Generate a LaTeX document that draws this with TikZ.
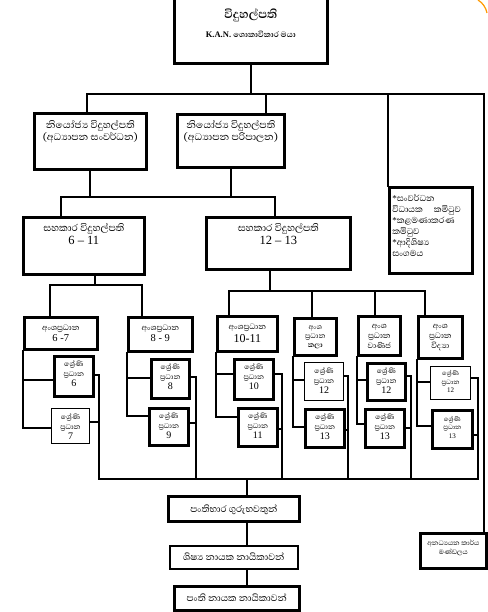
\documentclass[tikz,border=0pt]{standalone}
\usepackage{fontspec}
\setmainfont{Liberation Serif}
\newfontfamily\si[Script=Sinhala]{Abhaya Libre}
\newcommand\fs[1]{\fontsize{#1}{#1}\selectfont}
% centred text box: width, height, first baseline, baselineskip, content
\newcommand\cbx[5]{\parbox[c][#2pt][t]{#1pt}{\centering\baselineskip=#4pt\lineskiplimit=-30pt\lineskip=0pt\rule{0pt}{#3pt}#5\par}}
% left aligned text box
\newcommand\lbx[5]{\parbox[c][#2pt][t]{#1pt}{\raggedright\leftskip=3pt\baselineskip=#4pt\lineskiplimit=-30pt\lineskip=0pt\rule{0pt}{#3pt}#5\par}}
\newcommand\comstar{{\rmfamily\fs{9}*}}
\newcommand\gtext[1]{{\si\fs{9}ශ්^^^^200dරේණි}\\{\si\fs{9}ප්^^^^200dරධාන}\\{\fs{10}#1}}
\newcommand\grp[8]{%
 \coordinate (#1a) at (0,#4); \coordinate (#1b) at (0,#5);
 \coordinate (#1ra) at (#6,#7); \coordinate (#1rb) at (#6,#8);
 \draw[con] (#1.south west) -- (#1.south west |- #1b) -- (#3.west |- #1b);
 \draw[con] (#1.south west |- #1a) -- (#2.west |- #1a);
 \draw[con] (#2.east |- #1ra) -- (#1ra) -- (#1ra |- bl);
 \draw[con] (#3.east |- #1rb) -- (#1rb);
}
\tikzset{
 thk/.style={draw, line width=2.6pt, inner sep=0pt, anchor=north west},
 thn/.style={draw, line width=1pt, inner sep=0pt, anchor=north west},
 con/.style={line width=2.2pt, line cap=rect},
}
\begin{document}
\begin{tikzpicture}[x=1pt,y=-1pt]
\useasboundingbox[fill=white] (0,0) rectangle (487,612);
% boxes
\node[thk] (prin) at (173,-3) {\cbx{153}{65}{20}{19}{{\si\bfseries\fs{15}විදුහල්පති}\\{\bfseries\fs{8.5}K.A.N. {\si\fs{10}ශොකාවිකාර මයා}}}};
\node[thk] (dep1) at (33,112) {\cbx{112}{56}{15}{12.5}{\si\fs{12.5}නියෝජ්^^^^200dය විදුහල්පති\\(අධ්^^^^200dයාපන සංවර්ධන)}};
\node[thk] (dep2) at (176,113) {\cbx{107}{53}{14}{12.5}{\si\fs{12.5}නියෝජ්^^^^200dය විදුහල්පති\\(අධ්^^^^200dයාපන පරිපාලන)}};
\node[thk] (com) at (388,186) {\lbx{83}{86}{14}{12.6}{\si\fs{11}\comstar සංවර්ධන\\විධායක\quad කමිටුව\\\comstar කළමණාකරණ\\කමිටුව\\\comstar ආදිශිෂ්^^^^200dය\\සංගමය}};
\node[thk] (ast1) at (22,216) {\cbx{121}{57}{14}{13}{{\si\fs{12.5}සහකාර විදුහල්පති}\\{\fs{12.5}6 – 11}}};
\node[thk] (ast2) at (205,216) {\cbx{144}{52}{14}{13}{{\si\fs{12.5}සහකාර විදුහල්පති}\\{\fs{12.5}12 – 13}}};
\node[thk] (s67) at (23,316) {\cbx{73}{32}{13.5}{11}{{\si\fs{10}අංශප්^^^^200dරධාන}\\{\fs{10.5}6 -7}}};
\node[thk] (s89) at (127,316) {\cbx{64}{34}{13.5}{11}{{\si\fs{10}අංශප්^^^^200dරධාන}\\{\fs{10.5}8 - 9}}};
\node[thk] (s1011) at (216,315) {\cbx{60}{35}{13.5}{13}{{\si\fs{10}අංශප්^^^^200dරධාන}\\{\fs{12}10-11}}};
\node[thk] (kala) at (293,317) {\cbx{42}{37}{11}{10.5}{\si\fs{9}අංශ\\ප්^^^^200dරධාන\\{\bfseries කලා}}};
\node[thk] (vanija) at (357,315) {\cbx{42}{39}{12.5}{11.5}{\si\fs{10}අංශ\\ප්^^^^200dරධාන\\වාණිජ}};
\node[thk] (vidya) at (417,315) {\cbx{44}{42}{12.5}{11.5}{\si\fs{10}අංශ\\ප්^^^^200dරධාන\\විද්^^^^200dයා}};
\node[thk] (g6) at (53,355) {\cbx{39}{40}{10.5}{10}{\gtext{6}}};
\node[thn] (g7) at (51,408) {\cbx{38}{35}{10.5}{10}{\gtext{7}}};
\node[thk] (g8) at (150,358) {\cbx{38}{39}{10.5}{10}{\gtext{8}}};
\node[thk] (g9) at (148,407) {\cbx{39}{37}{10.5}{10}{\gtext{9}}};
\node[thk] (g10) at (233,358) {\cbx{39}{40}{10.5}{10}{\gtext{10}}};
\node[thk] (g11) at (237,407) {\cbx{39}{38}{10.5}{10}{\gtext{11}}};
\node[thn] (gk12) at (304,362) {\cbx{39}{38}{10.5}{10}{\gtext{12}}};
\node[thk] (gk13) at (304,408) {\cbx{39}{38}{10.5}{10}{\gtext{13}}};
\node[thk] (gv12) at (366,362) {\cbx{38}{37}{10.5}{10}{\gtext{12}}};
\node[thk] (gv13) at (364,408) {\cbx{39}{38}{10.5}{10}{\gtext{13}}};
\node[thn] (gs12) at (430,366) {\cbx{40}{33}{9}{8.5}{{\si\fs{8}ශ්^^^^200dරේණි}\\{\si\fs{8}ප්^^^^200dරධාන}\\{\fs{7}12}}};
\node[thk] (gs13) at (431,409) {\cbx{40}{38}{11}{8.5}{{\si\fs{8}ශ්^^^^200dරේණි}\\{\si\fs{8}ප්^^^^200dරධාන}\\{\fs{7}13}}};
\node[thk] (teach) at (167,495) {\cbx{131}{25}{16}{10}{\si\fs{12}පංතිභාර ගුරුභවතුන්}};
\node[draw, line width=1.5pt, inner sep=0pt, anchor=north west] (stud) at (169,545) {\cbx{128}{23}{15}{10}{\si\fs{12}ශිෂ්^^^^200dය නායක නායිකාවන්}};
\node[thk] (cls) at (173,585) {\cbx{125}{24}{15.5}{10}{\si\fs{12}පංති නායක නායිකාවන්}};
\node[thk] (nonac) at (419,532) {\cbx{66}{35}{12.5}{9}{\si\fs{8.5}අනධ්^^^^200dයයන කාර්ය\\මණ්ඩලය}};
% junction points
\coordinate (h1L) at (87,94); \coordinate (h1R) at (484,94); \coordinate (j2) at (266,94);
\coordinate (h2L) at (61,197); \coordinate (h2R) at (275,197);
\coordinate (j3) at (95,285); \coordinate (h3L) at (50,285); \coordinate (h3R) at (142,285);
\coordinate (j4) at (270,291); \coordinate (h4L) at (229,291); \coordinate (h4R) at (425,291);
\coordinate (j5) at (312,291); \coordinate (j6) at (375,291);
\coordinate (bl) at (99,479); \coordinate (br) at (478,479); \coordinate (jc) at (247,479);
% connectors
\draw[con] (prin.south) -- (prin.south |- h1L);
\draw[con] (h1L) -- (h1R);
\draw[con] (h1L) -- (h1L |- dep1.north);
\draw[con] (j2) -- (j2 |- dep2.north);
\draw[con] (com.north west) -- (com.north west |- h1L);
\draw[con] (h1R) -- (h1R |- nonac.north);
\draw[con] (dep1.south) -- (dep1.south |- h2L);
\draw[con] (dep2.south) -- (dep2.south |- h2L);
\draw[con] (h2L) -- (h2R);
\draw[con] (h2L) -- (h2L |- ast1.north);
\draw[con] (h2R) -- (h2R |- ast2.north);
\draw[con] (j3 |- ast1.south) -- (j3);
\draw[con] (h3L) -- (h3R);
\draw[con] (h3L) -- (h3L |- s67.north);
\draw[con] (h3R) -- (h3R |- s89.north);
\draw[con] (j4 |- ast2.south) -- (j4);
\draw[con] (h4L) -- (h4R);
\draw[con] (h4L) -- (h4L |- s1011.north);
\draw[con] (j5) -- (j5 |- kala.north);
\draw[con] (j6) -- (j6 |- vanija.north);
\draw[con] (h4R) -- (h4R |- vidya.north);
\grp{s67}{g6}{g7}{380}{428}{99}{375}{422}
\grp{s89}{g8}{g9}{378}{416}{196}{377}{423}
\grp{s1011}{g10}{g11}{374}{417}{282}{374}{429}
\grp{kala}{gk12}{gk13}{380}{427}{348}{376}{430}
\grp{vanija}{gv12}{gv13}{380}{424}{411}{376}{428}
\grp{vidya}{gs12}{gs13}{382}{426}{478}{378}{435}
\draw[con] (bl) -- (br);
\draw[con] (jc) -- (jc |- teach.north);
\draw[con] (jc |- teach.south) -- (jc |- stud.north);
\draw[con] (jc |- stud.south) -- (jc |- cls.north);
% orange mark at the corner
\draw[orange!80!yellow, line width=1.2pt] (478,0) .. controls (483,3) and (486,8) .. (487,13);
\end{tikzpicture}
\end{document}
